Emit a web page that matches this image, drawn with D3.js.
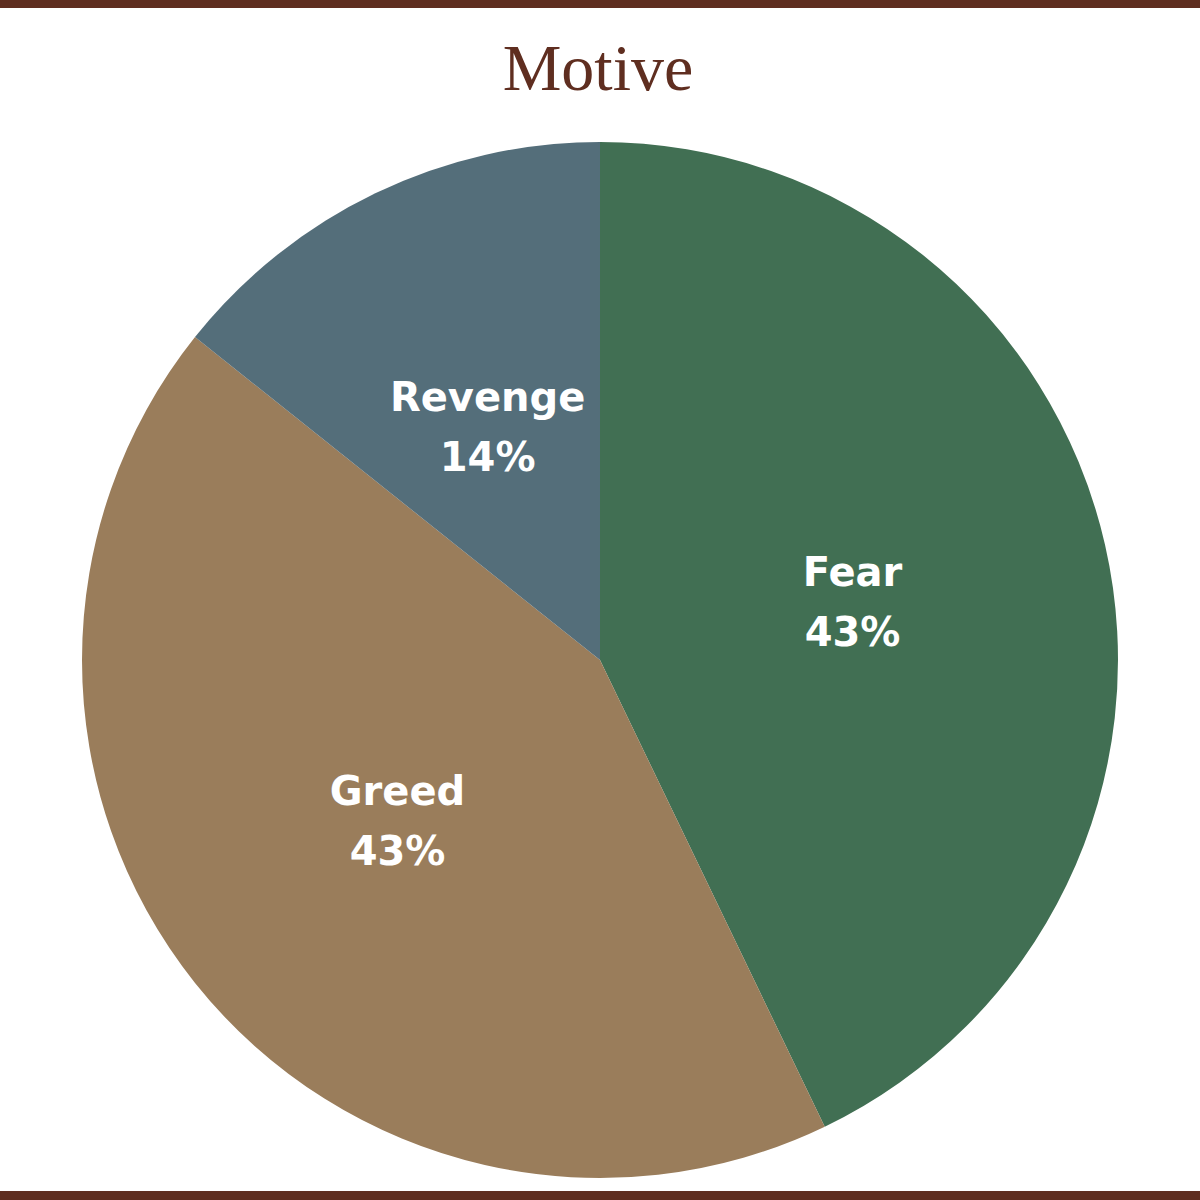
<!DOCTYPE html>
<html>
<head>
<meta charset="utf-8">
<script src="https://cdn.jsdelivr.net/npm/d3@7"></script>
<style>
  body { margin: 0; background: #fff; }
</style>
</head>
<body>
<div id="chart"></div>
<script>
// Motive breakdown
const motives = ["Fear", "Greed", "Revenge"];
const counts = [3, 3, 1];
const percentLabels = ["43%", "43%", "14%"];
const sliceColors = ["#416f53", "#9a7d5b", "#546e7a"];

const width = 1200, height = 1200;
const cx = 600, cy = 660, radius = 518;

const svg = d3.select("#chart")
    .append("svg")
    .attr("width", width)
    .attr("height", height);

// brown bars top and bottom
svg.append("rect").attr("x", 0).attr("y", 0).attr("width", width).attr("height", 8).attr("fill", "#5f2e20");
svg.append("rect").attr("x", 0).attr("y", 1191).attr("width", width).attr("height", 9).attr("fill", "#5f2e20");

// title
svg.append("text")
    .attr("x", 598)
    .attr("y", 90)
    .attr("text-anchor", "middle")
    .style("font-family", "'Liberation Serif', serif")
    .style("font-size", "66px")
    .attr("fill", "#5f2e20")
    .text("Motive");

const data = motives.map((m, i) => ({ name: m, value: counts[i], pct: percentLabels[i], color: sliceColors[i] }));

const pie = d3.pie().value(d => d.value).sort(null);
const arc = d3.arc().innerRadius(0).outerRadius(radius);
const labelArc = d3.arc().innerRadius(radius * 0.5).outerRadius(radius * 0.5);

const g = svg.append("g").attr("transform", `translate(${cx},${cy})`);

const slices = g.selectAll(".slice")
    .data(pie(data))
    .enter()
    .append("g")
    .attr("class", "slice");

slices.append("path")
    .attr("d", arc)
    .attr("fill", d => d.data.color);

const labels = slices.append("text")
    .attr("transform", d => `translate(${labelArc.centroid(d)})`)
    .attr("text-anchor", "middle")
    .style("font-family", "'DejaVu Sans', sans-serif")
    .style("font-weight", "bold")
    .style("font-size", "40px")
    .attr("fill", "#ffffff");

labels.append("tspan").attr("x", 0).attr("y", -16).text(d => d.data.name);
labels.append("tspan").attr("x", 0).attr("y", 44).text(d => d.data.pct);
</script>
</body>
</html>
